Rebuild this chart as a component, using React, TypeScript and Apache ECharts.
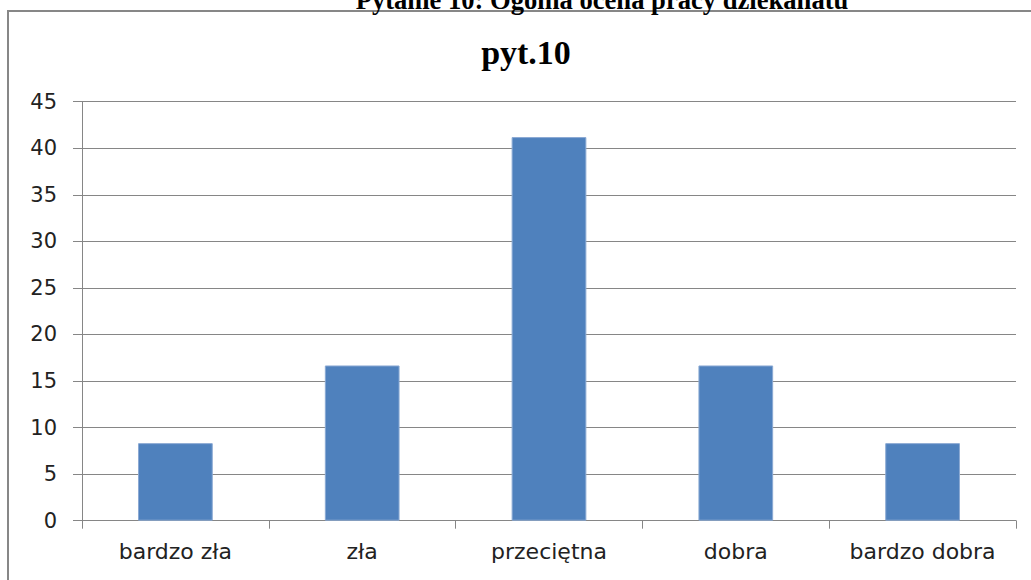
import React, { useEffect, useRef } from "react";
import * as echarts from "echarts";

const pageTitle = "Pytanie 10: Ogólna ocena pracy dziekanatu";
const chartTitle = "pyt.10";
const categories = ["bardzo zła", "zła", "przeciętna", "dobra", "bardzo dobra"];
const values = [8.33, 16.67, 41.2, 16.67, 8.33];
const yMin = 0;
const yMax = 45;
const yStep = 5;

export default function App() {
  const ref = useRef<HTMLDivElement>(null);
  useEffect(() => {
    if (!ref.current) return;
    const chart = echarts.init(ref.current, null, { renderer: "svg" });
    const labelFont = "'DejaVu Sans', 'Noto Sans', sans-serif";
    chart.setOption({
      animation: false,
      graphic: [
        {
          type: "text",
          x: 602,
          y: 13,
          style: {
            text: pageTitle,
            font: "bold 26.6px 'Liberation Serif', 'Times New Roman', serif",
            fill: "#000",
            align: "center",
            verticalAlign: "bottom",
          },
        },
        {
          type: "text",
          x: 526,
          y: 52,
          style: {
            text: chartTitle,
            font: "bold 34px 'Liberation Serif', 'Times New Roman', serif",
            fill: "#000",
            align: "center",
            verticalAlign: "middle",
          },
        },
      ],
      grid: { left: 82, right: 15, top: 101.7, bottom: 59.3, containLabel: false },
      xAxis: {
        type: "category",
        data: categories,
        axisLine: { show: true, lineStyle: { color: "#868686", width: 1 } },
        axisTick: { show: true, length: 8, alignWithLabel: false, interval: 0, lineStyle: { color: "#868686" } },
        axisLabel: { color: "#222", fontSize: 22, fontFamily: labelFont, margin: 20, interval: 0 },
        splitLine: { show: false },
      },
      yAxis: {
        type: "value",
        min: yMin,
        max: yMax,
        interval: yStep,
        axisLine: { show: true, lineStyle: { color: "#868686", width: 1 } },
        axisTick: { show: true, length: 9, lineStyle: { color: "#868686" } },
        axisLabel: { color: "#222", fontSize: 21, fontFamily: labelFont, margin: 25 },
        splitLine: { show: true, lineStyle: { color: "#868686", width: 1 } },
      },
      series: [
        {
          type: "bar",
          data: values,
          barWidth: "40%",
          itemStyle: { color: "#4F81BD", borderColor: "#8aa9d3", borderWidth: 1 },
        },
      ],
    });
    return () => chart.dispose();
  }, []);
  return (
    <div style={{ position: "fixed", left: 0, top: 0, width: 1031, height: 580, background: "#fff", overflow: "hidden" }}>
      <div
        style={{
          position: "absolute",
          left: 7,
          top: 10,
          width: 1100,
          height: 700,
          borderLeft: "2px solid #878787",
          borderTop: "2px solid #878787",
        }}
      />
      <div ref={ref} style={{ position: "absolute", left: 0, top: 0, width: 1031, height: 580 }} />
    </div>
  );
}
